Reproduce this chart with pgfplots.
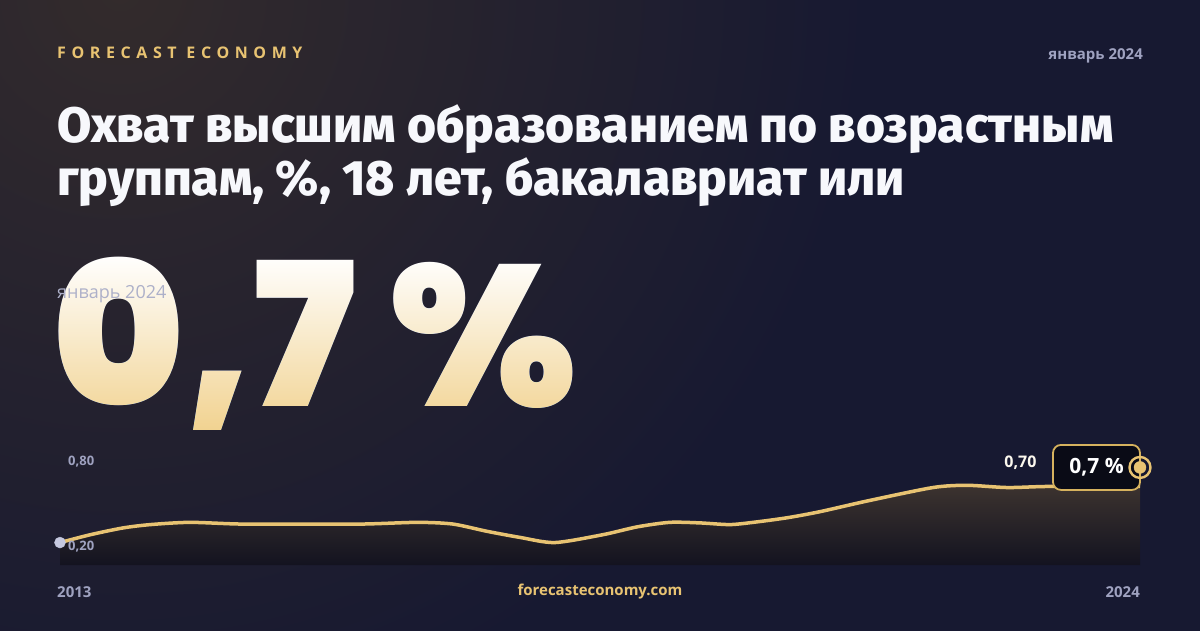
\documentclass[border=0pt]{standalone}
\usepackage{fontspec}
\usepackage{pgfplots}
\pgfplotsset{compat=1.18}

\setmainfont{Open Sans}
\IfFontExistsTF{Poppins Black}{\newfontfamily\heavy{Poppins Black}}{%
  \IfFontExistsTF{Poppins ExtraBold}{\newfontfamily\heavy{Poppins ExtraBold}}{%
    \IfFontExistsTF{Lato Black}{\newfontfamily\heavy{Lato Black}}{%
      \newfontfamily\heavyfam{Poppins}\newcommand\heavy{\heavyfam\bfseries}}}}
\IfFontExistsTF{Fira Sans ExtraBold}{\newfontfamily\titlefont{Fira Sans ExtraBold}}{%
  \newfontfamily\titlefam{Fira Sans}\newcommand\titlefont{\titlefam\bfseries}}

\definecolor{bgc}{HTML}{171931}
\definecolor{glowc}{HTML}{332B2C}
\definecolor{gold}{HTML}{E8C372}
\definecolor{bigbot}{HTML}{F0CF88}
\definecolor{muted}{HTML}{9FA2C0}
\definecolor{titlec}{HTML}{F7F8FC}
\definecolor{boxfill}{HTML}{0A0B16}
\definecolor{boxedge}{HTML}{D6B25E}
\definecolor{areatop}{HTML}{3C332F}
\definecolor{areabot}{HTML}{131320}
\definecolor{startdot}{HTML}{C5C8DF}

% coverage, %, by year
\pgfplotstableread{
year     v
2013.00  0.200
2013.31  0.270
2013.64  0.330
2013.92  0.360
2014.32  0.380
2014.83  0.365
2015.44  0.365
2016.09  0.365
2016.64  0.380
2017.00  0.365
2017.35  0.300
2017.69  0.245
2018.04  0.200
2018.53  0.270
2018.88  0.340
2019.21  0.380
2019.52  0.375
2019.82  0.360
2020.06  0.380
2020.40  0.420
2020.74  0.475
2021.22  0.570
2021.89  0.690
2022.24  0.710
2022.65  0.690
2023.08  0.700
2024.00  0.700
}\coverage

\begin{document}
\begin{tikzpicture}[x=1pt,y=1pt]
\useasboundingbox (0,0) rectangle (1200,630);
% background with warm glow top left
\fill[bgc] (-3,-3) rectangle (1203,633);
\begin{scope}
\clip (0,0) rectangle (1200,630);
\shade[inner color=glowc, outer color=bgc] (120,640) circle (750);
\end{scope}

% header
\node[anchor=base west, inner sep=0pt, text=gold,
  font=\bfseries\fontsize{16}{16}\selectfont\addfontfeature{LetterSpace=35}]
  at (57,571) {FORECAST ECONOMY};
\node[anchor=base east, inner sep=0pt, text=muted,
  font=\bfseries\fontsize{15}{15}\selectfont] at (1143,570) {январь 2024};

% title
\node[anchor=base west, inner sep=0pt, text=titlec,
  font=\titlefont\fontsize{49.7}{49.7}\selectfont] at (57,487) {Охват высшим образованием по возрастным};
\node[anchor=base west, inner sep=0pt, text=titlec,
  font=\titlefont\fontsize{49.7}{49.7}\selectfont] at (57,434) {группам, \%, 18 лет, бакалавриат или};

% big number: white text, gradient laid over it with darken blending
\node[anchor=base west, inner sep=0pt, text=white, text depth=0pt,
  font=\heavy\fontsize{200}{200}\selectfont] at (52,223) {0,7 \%};
\begin{scope}[blend mode=darken]
\shade[top color=white, bottom color=bigbot] (40,186) rectangle (640,376);
\end{scope}
\node[anchor=base west, inner sep=0pt, text=muted!85!white,
  font=\fontsize{18}{18}\selectfont] at (57,331) {январь 2024};

% chart
\begin{axis}[
  at={(60pt,65pt)}, anchor=south west,
  scale only axis, width=1080pt, height=110pt,
  xmin=2013, xmax=2024, ymin=0, ymax=0.98,
  hide axis, clip=false,
]
\addplot[draw=none, top color=areatop, bottom color=areabot, smooth, tension=0.45]
  table[x=year, y=v] {\coverage} \closedcycle;
\addplot[gold, line width=3.5pt, smooth, tension=0.45]
  table[x=year, y=v] {\coverage};
\addplot[only marks, mark=*, mark size=5.5pt, color=startdot] coordinates {(2013,0.20)};
\addplot[draw=none, nodes near coords={0{,}70},
  every node near coord/.append style={anchor=east, xshift=-100pt, yshift=24pt,
    text=white!88!gold, font=\bfseries\fontsize{16}{16}\selectfont}]
  coordinates {(2024,0.70)};
\addplot[draw=none, nodes near coords={0{,}7 \%},
  every node near coord/.append style={anchor=center, xshift=-43.5pt, yshift=19pt,
    draw=boxedge, line width=1.8pt, fill=boxfill, rounded corners=8pt,
    minimum width=87pt, minimum height=45pt, inner sep=0pt,
    text=white, font=\bfseries\fontsize{21}{21}\selectfont}]
  coordinates {(2024,0.70)};
\addplot[only marks, mark=o, mark size=10.5pt, line width=2.4pt, color=gold,
  mark options={yshift=19pt, fill=boxfill}] coordinates {(2024,0.70)};
\addplot[only marks, mark=*, mark size=6pt, color=gold,
  mark options={yshift=19pt}] coordinates {(2024,0.70)};
\end{axis}

% axis labels
\node[anchor=west, inner sep=0pt, text=muted, font=\bfseries\fontsize{13}{13}\selectfont]
  at (68,168) {0,80};
\node[anchor=west, inner sep=0pt, text=muted, font=\bfseries\fontsize{13}{13}\selectfont]
  at (68,83) {0,20};

% footer
\node[anchor=west, inner sep=0pt, text=muted, font=\bfseries\fontsize{15}{15}\selectfont]
  at (57,38) {2013};
\node[anchor=east, inner sep=0pt, text=muted, font=\bfseries\fontsize{15}{15}\selectfont]
  at (1140,38) {2024};
\node[inner sep=0pt, text=gold, font=\bfseries\fontsize{15}{15}\selectfont]
  at (600,38) {forecasteconomy.com};
\end{tikzpicture}
\end{document}
